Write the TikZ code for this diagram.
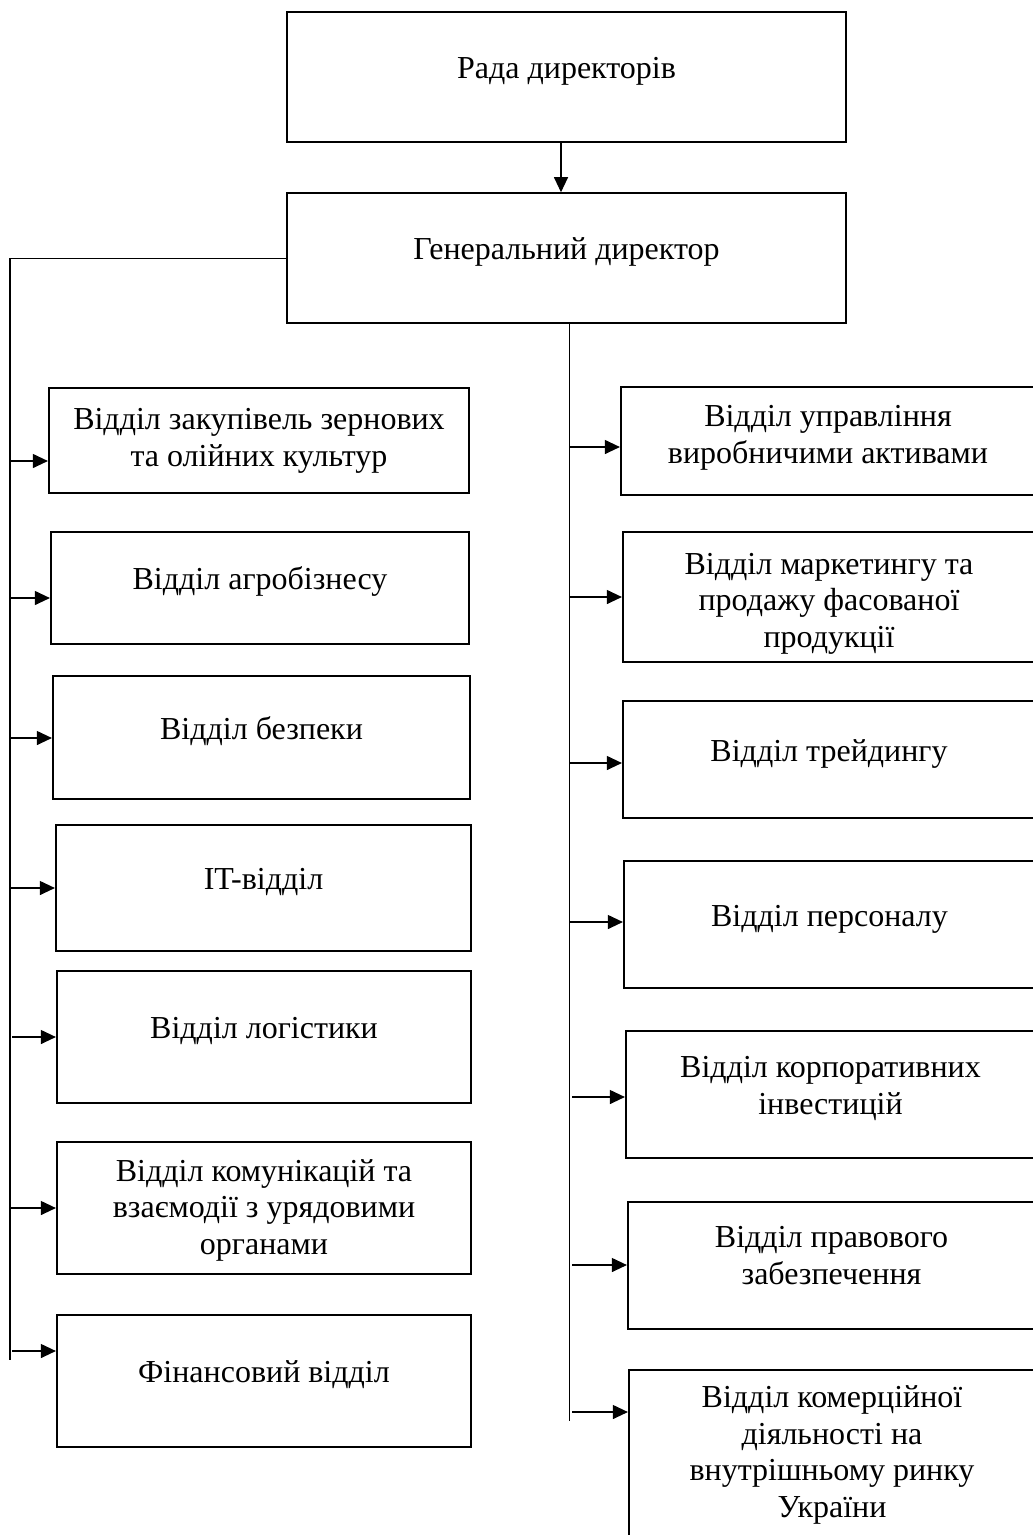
\documentclass[tikz,border=0pt]{standalone}
\usepackage{fontspec}
\setmainfont{Liberation Serif}
\usetikzlibrary{arrows.meta}
\tikzset{
  box/.style={draw=black, line width=2.2pt, rectangle, inner sep=0pt, align=center,
    font=\fontsize{32}{36.5}\selectfont, text height=22pt, text depth=19pt},
  lastbase/.style={text height=#1, text depth=10pt},
  conn/.style={draw=black, line width=1.1pt},
  arr/.style={conn, -{Triangle[length=15pt, width=14pt]}},
}
\begin{document}
\begin{tikzpicture}[x=1pt, y=-1pt]
\useasboundingbox (0,0) rectangle (1033,1535);
\fill[white] (0,0) rectangle (1033,1535);
\clip (0,0) rectangle (1033,1535);

% top boxes
\node[box, minimum width=559pt, minimum height=130pt] (rada) at (566.5,76.7) {Рада директорів};
\node[box, minimum width=559pt, minimum height=130pt] (gen) at (566.5,258.3) {Генеральний директор};

% left column
\node[box, minimum width=420pt, minimum height=105pt, lastbase=61pt] (L1) at (259,440.5) {Відділ закупівель зернових\\та олійних культур};
\node[box, minimum width=418pt, minimum height=112pt] (L2) at (260,588) {Відділ агробізнесу};
\node[box, minimum width=417pt, minimum height=123pt] (L3) at (261.5,737.5) {Відділ безпеки};
\node[box, minimum width=415pt, minimum height=126pt] (L4) at (263.5,888) {IT-відділ};
\node[box, minimum width=414pt, minimum height=132pt] (L5) at (264,1037) {Відділ логістики};
\node[box, minimum width=414pt, minimum height=132pt, lastbase=102pt] (L6) at (264,1208) {Відділ комунікацій та\\взаємодії з урядовими\\органами};
\node[box, minimum width=414pt, minimum height=132pt] (L7) at (264,1381) {Фінансовий відділ};

% right column
\node[box, minimum width=414pt, minimum height=108pt, lastbase=54pt] (R1) at (828,441) {Відділ управління\\виробничими активами};
\node[box, minimum width=412pt, minimum height=130pt, lastbase=110pt] (R2) at (829,597) {Відділ маркетингу та\\продажу фасованої\\продукції};
\node[box, minimum width=412pt, minimum height=117pt] (R3) at (829,759.5) {Відділ трейдингу};
\node[box, minimum width=411pt, minimum height=127pt] (R4) at (829.5,924.5) {Відділ персоналу};
\node[box, minimum width=409pt, minimum height=127pt, lastbase=49pt] (R5) at (830.5,1094.5) {Відділ корпоративних\\інвестицій};
\node[box, minimum width=407pt, minimum height=127pt, lastbase=47pt] (R6) at (831.5,1265.5) {Відділ правового\\забезпечення};
\node[box, minimum width=406pt, minimum height=175pt, lastbase=129pt] (R7) at (832,1457.5) {Відділ комерційної\\діяльності на\\внутрішньому ринку\\України};

% board -> general director
\draw[arr] ([xshift=-5.5pt]rada.south) -- ([xshift=-5.5pt]gen.north);

% left trunk
\coordinate (ltend) at (10,1360);
\draw[conn] (gen.west) -| (ltend);
\coordinate (lb1) at (11,461);
\coordinate (lb2) at (11,598);
\coordinate (lb3) at (11,738);
\coordinate (lb4) at (11,888);
\coordinate (lb5) at (12,1037);
\coordinate (lb6) at (11,1208);
\coordinate (lb7) at (12,1351);
\foreach \i in {1,...,7} {
  \draw[arr] (lb\i) -- (lb\i -| L\i.west);
}

% right trunk
\coordinate (rtend) at (569.5,1421);
\draw[conn] (gen.south -| rtend) -- (rtend);
\coordinate (rb1) at (570,447);
\coordinate (rb2) at (570,597);
\coordinate (rb3) at (570,763);
\coordinate (rb4) at (570,922);
\coordinate (rb5) at (572,1097);
\coordinate (rb6) at (572,1265);
\coordinate (rb7) at (572,1412);
\foreach \i in {1,...,7} {
  \draw[arr] (rb\i) -- (rb\i -| R\i.west);
}
\end{tikzpicture}
\end{document}
